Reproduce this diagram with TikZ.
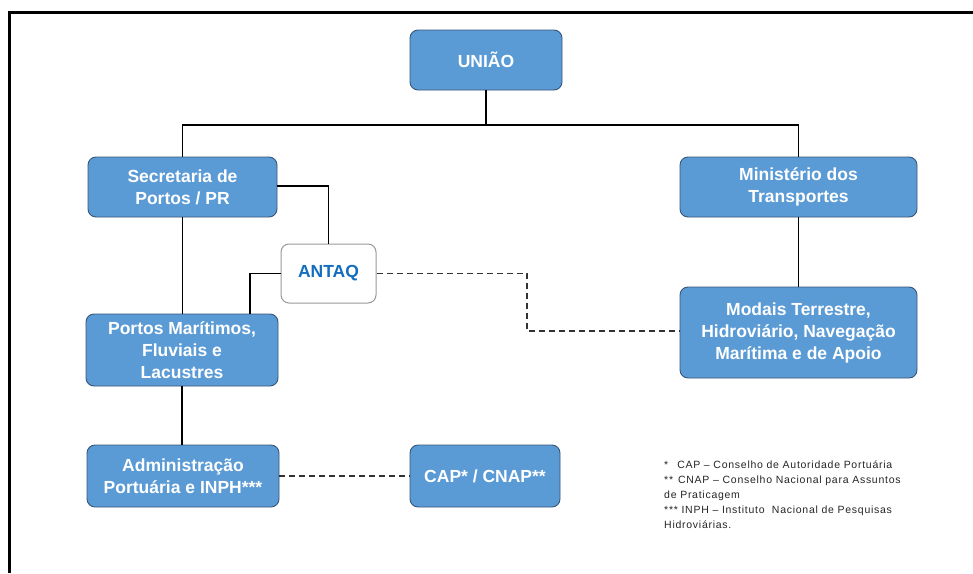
\documentclass[tikz,border=0pt]{standalone}
\usepackage{fontspec}
\setmainfont{Liberation Sans}
\newfontfamily\notefont[LetterSpace=7]{Liberation Sans}
\definecolor{boxblue}{RGB}{91,155,213}
\definecolor{boxedge}{RGB}{55,85,120}
\definecolor{antaqblue}{RGB}{20,110,190}
\definecolor{dashgray}{RGB}{50,50,50}
\begin{document}
\begin{tikzpicture}[x=1pt,y=-1pt,
  bluebox/.style={draw=boxedge,line width=0.9pt,fill=boxblue,rounded corners=8pt,
    text=white,font=\fontsize{17.5}{22}\selectfont\bfseries,align=center,inner sep=0pt},
  whitebox/.style={draw=gray!80,line width=1pt,fill=white,rounded corners=8pt,
    text=antaqblue,font=\fontsize{17.5}{22}\selectfont\bfseries,align=center,inner sep=0pt},
  link/.style={draw=black,line width=1.5pt},
  dlink/.style={draw=dashgray,line width=1.6pt,dash pattern=on 6pt off 4pt}]
\useasboundingbox (0,0) rectangle (973,573);
\fill[white] (0,0) rectangle (973,573);
\draw[line width=3pt] (9.5,573) -- (9.5,12) -- (973,12);

\node[bluebox,minimum width=152pt,minimum height=60pt] (uniao) at (486,60) {UNIÃO};
\node[bluebox,minimum width=189pt,minimum height=60pt] (sec) at (182.5,187) {Secretaria de\\Portos / PR};
\node[bluebox,minimum width=237pt,minimum height=60pt] (min) at (798.5,187) {Ministério dos\\Transportes};
\node[whitebox,minimum width=95pt,minimum height=59pt] (antaq) at (328.5,273.5) {ANTAQ};
\node[bluebox,minimum width=192pt,minimum height=72pt] (portos) at (182,350) {Portos Marítimos,\\Fluviais e\\Lacustres};
\node[bluebox,minimum width=237pt,minimum height=91pt] (modais) at (798.5,332.5) {Modais Terrestre,\\Hidroviário, Navegação\\Marítima e de Apoio};
\node[bluebox,minimum width=192pt,minimum height=62pt] (adm) at (183,476) {Administração\\Portuária e INPH***};
\node[bluebox,minimum width=150pt,minimum height=62pt] (cap) at (485,476) {CAP* / CNAP**};

\coordinate (bus) at (486,125);
\draw[link] (uniao.south) -- (bus);
\draw[link] (sec.north) |- (bus) -| (min.north);
\draw[link] (sec.east |- 0,186) -| (antaq.north);
\draw[link] (antaq.west) -| (250,0 |- portos.north);
\draw[link] (sec.south) -- (sec.south |- portos.north);
\draw[link] (portos.south) -- (portos.south |- adm.north);
\draw[link] (min.south) -- (modais.north);
\draw[dlink] (adm.east) -- (cap.west);
\draw[dlink] (antaq.east) -- (527,273.5) -- (527,331) -- (modais.west |- 0,331);

\node[anchor=north west,align=left,inner sep=0pt,text=black!85,
  font=\notefont\fontsize{10.5}{15}\selectfont] (notes) at (664,461)
  {*\hspace{9pt}CAP – Conselho de Autoridade Portuária\\
   **\hspace{5pt}CNAP – Conselho Nacional para Assuntos\\
   de Praticagem\\
   *** INPH – Instituto\ \ Nacional de Pesquisas\\
   Hidroviárias.};
\end{tikzpicture}
\end{document}
